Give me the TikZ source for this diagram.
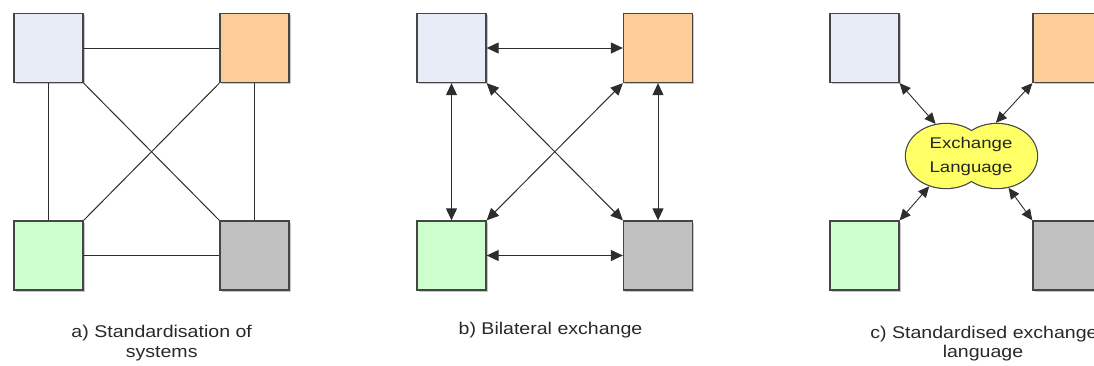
\documentclass[tikz,border=0pt]{standalone}
\usepackage{fontspec}
\setmainfont{Liberation Sans}
\newfontfamily\capfont{Liberation Sans}[FakeStretch=1.15]
\newfontfamily\elfont{Liberation Sans}[FakeStretch=1.2]
\usetikzlibrary{arrows.meta,shapes.geometric,shadows}
\definecolor{cTL}{RGB}{232,236,246}
\definecolor{cTR}{RGB}{254,204,150}
\definecolor{cBL}{RGB}{204,255,204}
\definecolor{cBR}{RGB}{192,192,192}
\definecolor{elyellow}{RGB}{255,255,102}
\definecolor{boxline}{RGB}{70,70,70}
\definecolor{linecol}{RGB}{45,45,45}
\definecolor{textcol}{RGB}{40,40,40}
\begin{document}
\begin{tikzpicture}[x=1pt,y=-1pt,
  sysbox/.style={rectangle, draw=boxline, line width=1.3pt, minimum size=69pt, inner sep=0pt,
    drop shadow={shadow xshift=1.5pt, shadow yshift=-1.5pt, fill=black!22, opacity=1}},
  link/.style={draw=linecol, line width=1pt},
  tipx/.tip={Triangle[length=12pt,width=11pt]},
  tipc/.tip={Triangle[length=11pt,width=10pt]},
  biarrow/.style={link, tipx-tipx},
  smallarrow/.style={draw=linecol, line width=0.9pt, tipc-tipc},
  caption/.style={font=\capfont\fontsize{17}{20}\selectfont, text=textcol, anchor=base, inner sep=0pt},
  eltext/.style={font=\elfont\fontsize{15.5}{20}\selectfont, text=black!85, anchor=base, inner sep=0pt},
  elshape/.style={ellipse, minimum width=80pt, minimum height=64pt, inner sep=0pt, draw=boxline, line width=2.4pt, fill=elyellow}
]
\useasboundingbox (0,0) rectangle (1094,365);
\clip (0,0) rectangle (1094,365);

% ---------- panel a ----------
\node[sysbox, fill=cTL] (atl) at (48.5,48) {};
\node[sysbox, fill=cTR] (atr) at (254.5,48) {};
\node[sysbox, fill=cBL] (abl) at (48.5,255.5) {};
\node[sysbox, fill=cBR] (abr) at (254.5,255.5) {};
\draw[link] (atl.east) -- (atr.west);
\draw[link] (abl.east) -- (abr.west);
\draw[link] (atl.south) -- (abl.north);
\draw[link] (atr.south) -- (abr.north);
\draw[link] (atl.south east) -- (abr.north west);
\draw[link] (atr.south west) -- (abl.north east);
\node[caption] (capa1) at (161.7,337) {a) Standardisation of};
\node[caption] (capa2) at (161.7,357) {systems};

% ---------- panel b ----------
\node[sysbox, fill=cTL] (btl) at (451.5,48) {};
\node[sysbox, fill=cTR] (btr) at (658,48) {};
\node[sysbox, fill=cBL] (bbl) at (451.5,255.5) {};
\node[sysbox, fill=cBR] (bbr) at (658,255.5) {};
\draw[biarrow] (btl.east) -- (btr.west);
\draw[biarrow] (bbl.east) -- (bbr.west);
\draw[biarrow] (btl.south) -- (bbl.north);
\draw[biarrow] (btr.south) -- (bbr.north);
\draw[biarrow] (btl.south east) -- (bbr.north west);
\draw[biarrow] (btr.south west) -- (bbl.north east);
\node[caption] (capb1) at (550.5,334.5) {b) Bilateral exchange};

% ---------- panel c ----------
\node[sysbox, fill=cTL] (ctl) at (864.5,48) {};
\node[sysbox, fill=cTR] (ctr) at (1067.5,48) {};
\node[sysbox, fill=cBL] (cbl) at (864.5,255.5) {};
\node[sysbox, fill=cBR] (cbr) at (1067.5,255.5) {};
\node[elshape] (e1) at (946,156) {};
\node[elshape] (e2) at (997,156) {};
\fill[elyellow] (e1.center) ellipse [x radius=40, y radius=32];
\fill[elyellow] (e2.center) ellipse [x radius=40, y radius=32];
\node[eltext] (el1) at (971,148) {Exchange};
\node[eltext] (el2) at (971,172.5) {Language};
\draw[smallarrow] (ctl.south east) -- (e1.108);
\draw[smallarrow] (ctr.south west) -- (e2.92);
\draw[smallarrow] (cbl.north east) -- (e1.241);
\draw[smallarrow] (cbr.north west) -- (e2.290);
\node[caption] (capc1) at (984,338) {c) Standardised exchange};
\node[caption] (capc2) at (983,357) {language};
\end{tikzpicture}
\end{document}
